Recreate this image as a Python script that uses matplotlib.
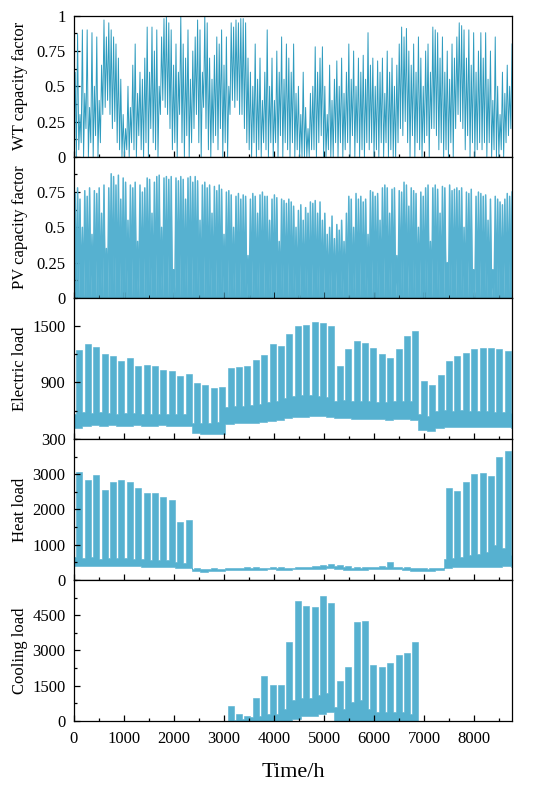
"""Hourly capacity factors and loads over one year, five stacked panels."""

import numpy as np
import matplotlib
matplotlib.use("Agg")
import matplotlib.pyplot as plt
from matplotlib.ticker import FuncFormatter, MultipleLocator

HOURS = 8760
BIN_H = 48    # WT / PV: one low/high pair per two days
WEEK_H = 168  # loads: one set of values per week
OFF_H = 48    # low-demand days at the start of each week

# WT capacity factor, two-day highs and lows
wt_high = [
    0.60, 0.87, 0.30, 0.90, 0.45, 0.90, 0.35, 0.88, 0.50, 0.85,
    0.40, 0.65, 0.97, 0.85, 0.95, 0.90, 0.85, 0.80, 0.70, 0.55,
    0.30, 0.20, 0.50, 0.35, 0.65, 0.80, 0.45, 0.60, 0.55, 0.70,
    0.92, 0.60, 0.92, 0.75, 0.90, 0.50, 0.85, 0.98, 1.00, 0.95,
    0.90, 0.65, 0.80, 0.60, 1.00, 0.80, 0.70, 0.90, 0.55, 0.75,
    0.85, 0.97, 0.90, 0.60, 1.00, 0.95, 0.70, 0.55, 0.72, 0.85,
    0.80, 0.90, 0.65, 0.85, 0.50, 0.95, 0.92, 0.97, 0.95, 0.98,
    0.98, 0.95, 0.70, 0.60, 0.50, 0.80, 0.55, 0.70, 0.40, 0.60,
    0.90, 0.50, 0.70, 0.40, 0.75, 0.60, 0.85, 0.55, 0.80, 0.70,
    0.60, 0.80, 0.45, 0.50, 0.30, 0.60, 0.35, 0.20, 0.45, 0.50,
    0.78, 0.60, 0.70, 0.78, 0.50, 0.30, 0.65, 0.40, 0.55, 0.68,
    0.50, 0.70, 0.45, 0.60, 0.80, 0.55, 0.75, 0.50, 0.70, 0.60,
    0.72, 0.55, 0.88, 0.65, 0.70, 0.50, 0.68, 0.60, 0.70, 0.45,
    0.75, 0.60, 0.70, 0.50, 0.65, 0.80, 0.92, 0.85, 0.91, 0.75,
    0.65, 0.80, 0.60, 0.85, 0.70, 0.50, 0.75, 0.80, 0.60, 0.92,
    0.90, 0.88, 0.70, 0.85, 0.60, 0.75, 0.55, 0.80, 0.70, 0.85,
    0.95, 0.93, 0.90, 0.70, 0.90, 0.65, 0.88, 0.60, 0.75, 0.88,
    0.70, 0.88, 0.55, 0.75, 0.40, 0.85, 0.50, 0.30, 0.60, 0.45,
    0.65, 0.50, 0.80,
]
wt_low = [
    0.10, 0.00, 0.05, 0.10, 0.00, 0.20, 0.00, 0.10, 0.00, 0.15,
    0.00, 0.10, 0.30, 0.35, 0.40, 0.30, 0.20, 0.25, 0.10, 0.05,
    0.00, 0.00, 0.05, 0.00, 0.10, 0.05, 0.00, 0.15, 0.05, 0.00,
    0.10, 0.00, 0.20, 0.10, 0.05, 0.00, 0.30, 0.40, 0.35, 0.30,
    0.20, 0.05, 0.10, 0.00, 0.30, 0.10, 0.00, 0.15, 0.00, 0.10,
    0.20, 0.30, 0.10, 0.00, 0.35, 0.20, 0.05, 0.00, 0.10, 0.15,
    0.05, 0.20, 0.00, 0.10, 0.00, 0.30, 0.40, 0.35, 0.40, 0.30,
    0.30, 0.20, 0.10, 0.05, 0.00, 0.10, 0.00, 0.05, 0.00, 0.10,
    0.05, 0.00, 0.10, 0.00, 0.10, 0.00, 0.15, 0.00, 0.10, 0.05,
    0.00, 0.10, 0.00, 0.05, 0.00, 0.00, 0.00, 0.00, 0.00, 0.05,
    0.05, 0.00, 0.10, 0.15, 0.00, 0.00, 0.05, 0.00, 0.00, 0.10,
    0.00, 0.10, 0.00, 0.05, 0.10, 0.00, 0.15, 0.00, 0.10, 0.00,
    0.05, 0.00, 0.10, 0.05, 0.10, 0.00, 0.05, 0.00, 0.10, 0.00,
    0.10, 0.00, 0.05, 0.00, 0.00, 0.10, 0.20, 0.15, 0.25, 0.10,
    0.00, 0.15, 0.00, 0.10, 0.05, 0.00, 0.10, 0.15, 0.00, 0.20,
    0.20, 0.15, 0.05, 0.10, 0.00, 0.05, 0.00, 0.10, 0.00, 0.20,
    0.30, 0.25, 0.20, 0.05, 0.15, 0.00, 0.10, 0.00, 0.05, 0.10,
    0.05, 0.10, 0.00, 0.10, 0.00, 0.05, 0.00, 0.00, 0.05, 0.00,
    0.10, 0.15, 0.20,
]

# PV capacity factor, two-day peaks (zero at night)
pv_peak = [
    0.74, 0.78, 0.70, 0.50, 0.76, 0.72, 0.78, 0.45, 0.76, 0.74,
    0.78, 0.60, 0.80, 0.35, 0.78, 0.88, 0.86, 0.80, 0.87, 0.70,
    0.85, 0.82, 0.55, 0.80, 0.78, 0.82, 0.40, 0.80, 0.75, 0.78,
    0.85, 0.84, 0.60, 0.82, 0.86, 0.87, 0.50, 0.85, 0.86, 0.84,
    0.86, 0.20, 0.85, 0.83, 0.86, 0.84, 0.70, 0.85, 0.86, 0.82,
    0.86, 0.83, 0.55, 0.80, 0.82, 0.78, 0.80, 0.60, 0.79, 0.76,
    0.80, 0.77, 0.45, 0.75, 0.76, 0.73, 0.50, 0.72, 0.74, 0.70,
    0.73, 0.72, 0.30, 0.70, 0.74, 0.72, 0.60, 0.73, 0.75, 0.72,
    0.72, 0.55, 0.70, 0.73, 0.71, 0.40, 0.70, 0.69, 0.67, 0.70,
    0.68, 0.65, 0.50, 0.62, 0.66, 0.55, 0.64, 0.60, 0.68, 0.67,
    0.69, 0.60, 0.68, 0.55, 0.60, 0.45, 0.50, 0.58, 0.42, 0.52,
    0.48, 0.55, 0.40, 0.60, 0.72, 0.70, 0.50, 0.74, 0.70, 0.72,
    0.68, 0.70, 0.45, 0.76, 0.75, 0.72, 0.74, 0.55, 0.78, 0.80,
    0.78, 0.60, 0.77, 0.78, 0.30, 0.76, 0.75, 0.82, 0.80, 0.65,
    0.78, 0.76, 0.74, 0.50, 0.75, 0.72, 0.78, 0.80, 0.40, 0.78,
    0.80, 0.77, 0.60, 0.79, 0.78, 0.25, 0.80, 0.76, 0.77, 0.78,
    0.76, 0.78, 0.50, 0.75, 0.74, 0.77, 0.20, 0.72, 0.75, 0.74,
    0.72, 0.73, 0.55, 0.70, 0.20, 0.72, 0.70, 0.68, 0.66, 0.70,
    0.74, 0.72, 0.75,
]

# Electric load per week: weekday peak, low-day peak, minimum
elec_peak = [
    1250, 1305, 1276, 1204, 1180, 1126, 1161, 1072, 1090, 1072,
    1036, 1018, 964, 993, 893, 875, 839, 857, 1054, 1061,
    1072, 1143, 1197, 1305, 1287, 1412, 1502, 1511, 1547, 1537,
    1502, 1072, 1251, 1340, 1323, 1269, 1204, 1161, 1251, 1394,
    1448, 911, 875, 982, 1126, 1179, 1215, 1251, 1269, 1262,
    1251, 1240, 1150,
]
elec_off = [
    560, 590, 580, 585, 575, 570, 580, 575, 570, 565,
    570, 560, 565, 560, 470, 465, 470, 480, 640, 650,
    655, 660, 670, 690, 700, 740, 760, 770, 770, 760,
    750, 700, 710, 705, 700, 700, 695, 690, 700, 705,
    700, 560, 540, 600, 610, 600, 605, 600, 595, 600,
    590, 585, 580,
]
elec_base = [
    420, 440, 445, 440, 445, 440, 440, 445, 440, 440,
    445, 440, 440, 440, 360, 355, 350, 355, 460, 465,
    470, 470, 480, 490, 500, 520, 530, 535, 540, 540,
    535, 520, 520, 515, 515, 510, 510, 505, 510, 510,
    505, 390, 380, 420, 425, 430, 430, 425, 430, 425,
    430, 425, 420,
]

# Heat load per week
heat_peak = [
    3075, 2840, 2980, 2550, 2790, 2840, 2790, 2620, 2460, 2460,
    2365, 2270, 1640, 1700, 330, 320, 340, 320, 340, 350,
    360, 360, 350, 370, 360, 350, 370, 380, 400, 430,
    450, 420, 400, 380, 370, 380, 390, 520, 380, 360,
    340, 350, 340, 350, 2600, 2520, 2780, 3000, 3020, 2940,
    3500, 3650, 2500,
]
heat_off = [
    650, 620, 640, 600, 630, 620, 610, 600, 590, 580,
    570, 560, 500, 480, 320, 310, 320, 310, 330, 340,
    340, 350, 340, 350, 350, 340, 350, 360, 380, 400,
    410, 390, 370, 350, 350, 360, 370, 380, 360, 340,
    330, 330, 320, 330, 600, 620, 650, 700, 750, 800,
    1000, 900, 700,
]
heat_base = [
    400, 410, 400, 390, 400, 400, 390, 390, 380, 380,
    370, 370, 340, 330, 250, 240, 250, 250, 270, 280,
    290, 290, 290, 300, 290, 290, 300, 300, 310, 320,
    330, 310, 280, 270, 290, 300, 300, 310, 300, 270,
    250, 260, 250, 270, 350, 360, 360, 370, 380, 380,
    380, 390, 380,
]

# Cooling load per week
cool_peak = [
    0, 0, 0, 0, 0, 0, 0, 0, 0, 0,
    0, 0, 0, 0, 0, 0, 0, 0, 650, 300,
    200, 1000, 1900, 1550, 1550, 3350, 5100, 4900, 4850, 5300,
    5000, 1700, 2300, 4200, 4250, 2400, 2300, 2450, 2800, 2900,
    3350, 0, 0, 0, 0, 0, 0, 0, 0, 0,
    0, 0, 0,
]
cool_off = [
    0, 0, 0, 0, 0, 0, 0, 0, 0, 0,
    0, 0, 0, 0, 0, 0, 0, 0, 0, 50,
    100, 150, 200, 300, 300, 500, 900, 1000, 1000, 1100,
    1200, 600, 500, 800, 900, 500, 400, 400, 400, 400,
    300, 0, 0, 0, 0, 0, 0, 0, 0, 0,
    0, 0, 0,
]
cool_base = [
    0, 0, 0, 0, 0, 0, 0, 0, 0, 0,
    0, 0, 0, 0, 0, 0, 0, 0, 0, 0,
    0, 0, 0, 0, 0, 0, 100, 200, 200, 300,
    400, 0, 0, 0, 0, 0, 0, 0, 0, 0,
    0, 0, 0, 0, 0, 0, 0, 0, 0, 0,
    0, 0, 0,
]

LINE = "#2f9cbf"
FILL = "#56b1d0"

plt.rcParams["font.family"] = ["Liberation Serif", "DejaVu Serif"]
plt.rcParams["font.size"] = 12


def zigzag(low, high, step):
    """Alternate each bin's low (at bin start) and high (mid bin)."""
    start = np.arange(len(high)) * step
    x = np.column_stack([start, start + step / 2]).ravel()
    y = np.column_stack([low, high]).ravel()
    return x, y


def weekly_steps(peak, off, base):
    """Step outline for each week: low-demand days, then working days."""
    start = np.arange(len(peak)) * WEEK_H
    x = np.column_stack([start, start + OFF_H]).ravel()
    upper = np.column_stack([off, peak]).ravel()
    lower = np.column_stack([base, base]).ravel()
    x = np.append(x, start[-1] + WEEK_H)
    upper = np.append(upper, upper[-1])
    lower = np.append(lower, lower[-1])
    return x, lower, upper


def draw_weekly(ax, peak, off, base):
    x, lower, upper = weekly_steps(peak, off, base)
    ax.fill_between(x, lower, upper, step="post", color=FILL, lw=0.4,
                    edgecolor=FILL)


fig, axes = plt.subplots(5, 1, figsize=(5.5, 7.88), dpi=100, sharex=True)
fig.subplots_adjust(left=0.1345, right=0.931, top=0.98, bottom=0.085, hspace=0)

# WT
ax = axes[0]
x, y = zigzag(wt_low, wt_high, BIN_H)
ax.plot(x, y, color=LINE, lw=0.7)
ax.set_ylim(0, 1)
ax.set_yticks([0, 0.25, 0.5, 0.75, 1])
ax.yaxis.set_minor_locator(MultipleLocator(0.125))
ax.set_ylabel("WT capacity factor")

# PV
ax = axes[1]
x, y = zigzag(np.zeros(len(pv_peak)), pv_peak, BIN_H)
ax.fill_between(x, 0, y, color=FILL, lw=0)
ax.plot(x, y, color=FILL, lw=1.1)
ax.set_ylim(0, 1)
ax.set_yticks([0, 0.25, 0.5, 0.75])
ax.yaxis.set_minor_locator(MultipleLocator(0.125))
ax.set_ylabel("PV capacity factor")

# loads
draw_weekly(axes[2], elec_peak, elec_off, elec_base)
axes[2].set_ylim(300, 1800)
axes[2].set_yticks([300, 900, 1500])
axes[2].yaxis.set_minor_locator(MultipleLocator(300))
axes[2].set_ylabel("Electric load")

draw_weekly(axes[3], heat_peak, heat_off, heat_base)
axes[3].set_ylim(0, 4000)
axes[3].set_yticks([0, 1000, 2000, 3000])
axes[3].yaxis.set_minor_locator(MultipleLocator(500))
axes[3].set_ylabel("Heat load")

draw_weekly(axes[4], cool_peak, cool_off, cool_base)
axes[4].set_ylim(0, 6000)
axes[4].set_yticks([0, 1500, 3000, 4500])
axes[4].yaxis.set_minor_locator(MultipleLocator(750))
axes[4].set_ylabel("Cooling load")

fmt = FuncFormatter(lambda v, _: f"{v:g}")
for ax in axes:
    ax.set_xlim(0, HOURS)
    ax.xaxis.set_major_locator(MultipleLocator(1000))
    ax.xaxis.set_minor_locator(MultipleLocator(500))
    ax.yaxis.set_major_formatter(fmt)
    ax.tick_params(which="both", direction="in", top=False, right=False, width=0.9)
    ax.tick_params(which="major", length=4.5, labelsize=12)
    ax.tick_params(which="minor", length=2.5)
    ax.tick_params(axis="y", which="major", pad=6)
    ax.tick_params(axis="x", which="major", pad=7)
    for sp in ax.spines.values():
        sp.set_linewidth(0.9)
    ax.yaxis.set_label_coords(-0.105, 0.5)

axes[4].set_xlabel("Time/h", fontsize=16, labelpad=12)

fig.savefig("out.png", dpi=100)
